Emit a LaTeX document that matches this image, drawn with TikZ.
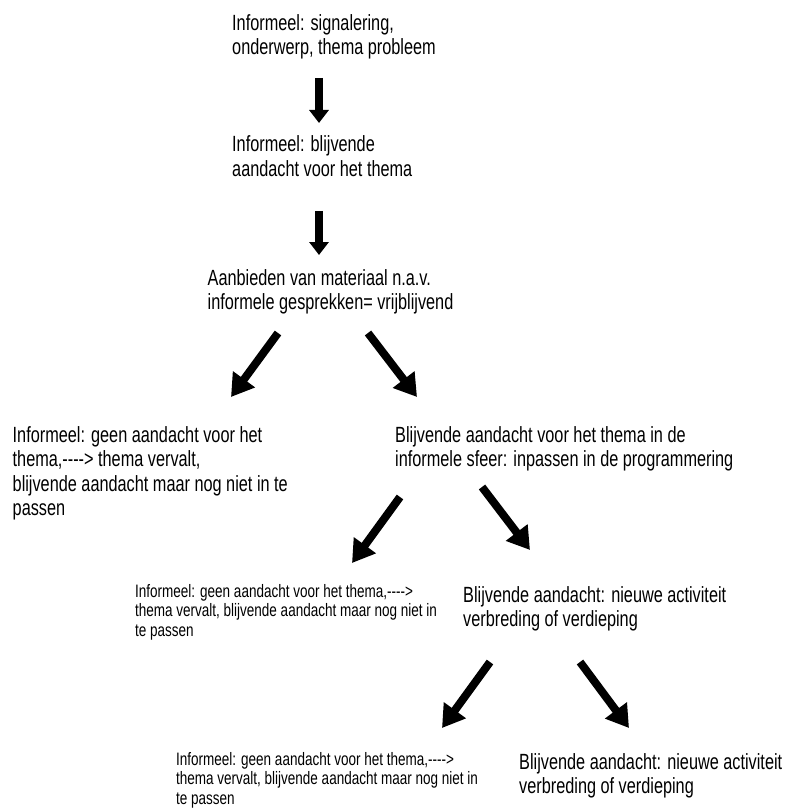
\documentclass[tikz,border=0pt]{standalone}
\usepackage{fontspec}
\usetikzlibrary{arrows.meta}
\newfontfamily\smalfont[FakeStretch=0.74]{Liberation Sans}
\newfontfamily\kleinfont[FakeStretch=0.75]{Liberation Sans}
\tikzset{
  stap/.style={anchor=base west, align=left, inner sep=0pt,
    font=\smalfont\fontsize{22}{24.5}\selectfont},
  klein/.style={stap, font=\kleinfont\fontsize{18}{19.5}\selectfont},
  omlaag/.style={line width=8pt, -{Triangle[width=19pt,length=13pt]}},
  schuin/.style={line width=8pt, -{Triangle[width=26pt,length=22pt]}},
}
\begin{document}
\begin{tikzpicture}[x=1pt, y=1pt]
    \useasboundingbox (0,0) rectangle (785,-810);
    \node[stap] (sig)   at (232,-55)                        {Informeel: signalering,\\onderwerp, thema probleem};
    \node[stap] (bli)   at ([shift={(0,-121.5)}]   sig.base west)   {Informeel: blijvende\\aandacht voor het thema};
    \node[stap] (aan)   at ([shift={(-24.5,-133)}] bli.base west)   {Aanbieden van materiaal n.a.v.\\informele gesprekken= vrijblijvend};
    \node[stap] (geen)  at ([shift={(-195,-206)}]  aan.base west)   {Informeel: geen aandacht voor het\\thema,{-}{-}{-}{-}> thema vervalt,\\blijvende aandacht maar nog niet in te\\passen};
    \node[stap] (sfeer) at ([shift={(187.5,-157)}] aan.base west)   {Blijvende aandacht voor het thema in de\\informele sfeer: inpassen in de programmering};
    \node[klein] (geenb) at ([shift={(-260,-169.5)}] sfeer.base west) {Informeel: geen aandacht voor het thema,{-}{-}{-}{-}>\\thema vervalt, blijvende aandacht maar nog niet in\\te passen};
    \node[stap] (act)   at ([shift={(68,-160)}]    sfeer.base west) {Blijvende aandacht: nieuwe activiteit\\verbreding of verdieping};
    \node[klein] (geenc) at ([shift={(-287,-177.5)}] act.base west) {Informeel: geen aandacht voor het thema,{-}{-}{-}{-}>\\thema vervalt, blijvende aandacht maar nog niet in\\te passen};
    \node[stap] (actb)  at ([shift={(56,-167)}]    act.base west)   {Blijvende aandacht: nieuwe activiteit\\verbreding of verdieping};
    \draw [omlaag] ([shift={(87,-23)}]      sig.base west)   -- ++(0,-45);
    \draw [omlaag] ([shift={(87,-34.5)}]    bli.base west)   -- ++(0,-44);
    \draw [schuin] ([shift={(70.5,-23.5)}]  aan.base west)   -- ++(-47,-64);
    \draw [schuin] ([shift={(160.5,-23.5)}] aan.base west)   -- ++(49,-64);
    \draw [schuin] ([shift={(5,-30.5)}]     sfeer.base west) -- ++(-48,-66);
    \draw [schuin] ([shift={(87,-20.5)}]    sfeer.base west) -- ++(48,-63);
    \draw [schuin] ([shift={(27,-35.5)}]    act.base west)   -- ++(-48,-66);
    \draw [schuin] ([shift={(117,-35.5)}]   act.base west)   -- ++(49,-66);
\end{tikzpicture}
\end{document}
